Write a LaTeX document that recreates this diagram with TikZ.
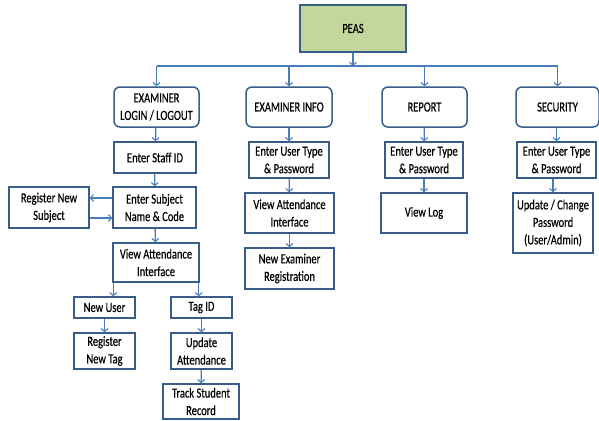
\documentclass[tikz,border=0pt]{standalone}
\usepackage{fontspec}
\setmainfont{Carlito}[FakeStretch=0.75, FakeBold=0.4]
\usepackage{tikz}
\usetikzlibrary{arrows.meta, positioning, calc}
\usepackage{xcolor}
\definecolor{boxblue}{HTML}{385D8A}
\definecolor{arrowblue}{HTML}{4A7EBB}
\definecolor{peasgreen}{HTML}{C3D69B}

\begin{document}
\begin{tikzpicture}[x=1pt, y=-1pt,
		blk/.style={draw=boxblue, line width=1.5pt, fill=white, align=center, inner sep=1pt,
			font=\fontsize{14}{17.5}\selectfont},
		rbox/.style={blk, rounded corners=6pt},
		wire/.style={draw=arrowblue, line width=1.3pt},
		flow/.style={wire, -{Straight Barb[length=3pt, width=7pt, line width=1.1pt]}}]
		\useasboundingbox (0,0) rectangle (599,420);

		% top
		\draw (353,28.5) node[blk, fill=peasgreen, minimum width=106pt, minimum height=47pt] (peas) {PEAS};

		% modules
		\draw (156.5,107) node[rbox, minimum width=85pt, minimum height=40pt] (login) {EXAMINER\\LOGIN / LOGOUT}
		(289,107) node[rbox, minimum width=86pt, minimum height=40pt] (info) {EXAMINER INFO}
		(424.5,107) node[rbox, minimum width=85pt, minimum height=40pt] (report) {REPORT}
		(557.5,107) node[rbox, minimum width=83pt, minimum height=40pt] (security) {SECURITY};

		% examiner login / logout
		\draw (155,157.5) node[blk, minimum width=82pt, minimum height=31pt] (staff) {Enter Staff ID}
		(154.5,207.5) node[blk, minimum width=83pt, minimum height=41pt] (subject) {Enter Subject\\Name \& Code}
		(49,207.5) node[blk, minimum width=80pt, minimum height=41pt] (regsub) {Register New\\Subject}
		(156,262.5) node[blk, minimum width=86pt, minimum height=39pt] (viewatt) {View Attendance\\Interface}
		(104.5,307.5) node[blk, minimum width=61pt, minimum height=21pt] (newuser) {New User}
		(201.5,307.5) node[blk, minimum width=61pt, minimum height=21pt] (tagid) {Tag ID}
		(104.5,351) node[blk, minimum width=61pt, minimum height=36pt] (regtag) {Register\\New Tag}
		(201.5,351) node[blk, minimum width=61pt, minimum height=36pt] (update) {Update\\Attendance}
		(201,401.5) node[blk, minimum width=76pt, minimum height=35pt] (track) {Track Student\\Record};

		% examiner info
		\draw (289,160) node[blk, minimum width=80pt, minimum height=36pt] (infouser) {Enter User Type\\\& Password}
		(289.5,213) node[blk, minimum width=89pt, minimum height=40pt] (infoview) {View Attendance\\Interface}
		(289.5,268.5) node[blk, minimum width=89pt, minimum height=41pt] (newexam) {New Examiner\\Registration};

		% report
		\draw (424,160) node[blk, minimum width=78pt, minimum height=36pt] (repuser) {Enter User Type\\\& Password}
		(424,213) node[blk, minimum width=86pt, minimum height=40pt] (viewlog) {View Log};

		% security
		\draw (556.5,160) node[blk, minimum width=79pt, minimum height=36pt] (secuser) {Enter User Type\\\& Password}
		(553,223) node[blk, minimum width=80pt, minimum height=60pt] (secupd) {Update / Change\\Password\\(User/Admin)};

		% bus under PEAS
		\coordinate (bus) at (353,66);
		\draw[flow] (peas) -- (bus);
		\draw[wire] (bus -| login) -- (bus -| security);
		\foreach \mod in {login, info, report, security}
			\draw[flow] (bus -| \mod) -- (\mod);

		\draw[flow] (login) -- (staff);
		\draw[flow] (staff) -- (subject);
		\draw[flow] ([yshift=9.5pt]subject.west) -- ([yshift=9.5pt]regsub.east);
		\draw[flow] ([yshift=-10.5pt]regsub.east) -- ([yshift=-10.5pt]subject.west);
		\draw[flow] (subject) -- (viewatt);
		\draw[flow] ([xshift=1pt]viewatt.south west) -- ([xshift=1pt]viewatt.south west |- newuser.north);
		\draw[flow] ([xshift=-1pt]viewatt.south east) -- ([xshift=-1pt]viewatt.south east |- tagid.north);
		\draw[flow] (newuser) -- (regtag);
		\draw[flow] (tagid) -- (update);
		\draw[flow] (update) -- (track);

		\draw[flow] (info) -- (infouser);
		\draw[flow] (infouser) -- (infoview);
		\draw[flow] (infoview) -- (newexam);

		\draw[flow] (report) -- (repuser);
		\draw[flow] (repuser) -- (viewlog);

		\draw[flow] (security.south -| secuser) -- (secuser);
		\draw[flow] (secuser.south -| secupd) -- (secupd);
	\end{tikzpicture}
\end{document}
